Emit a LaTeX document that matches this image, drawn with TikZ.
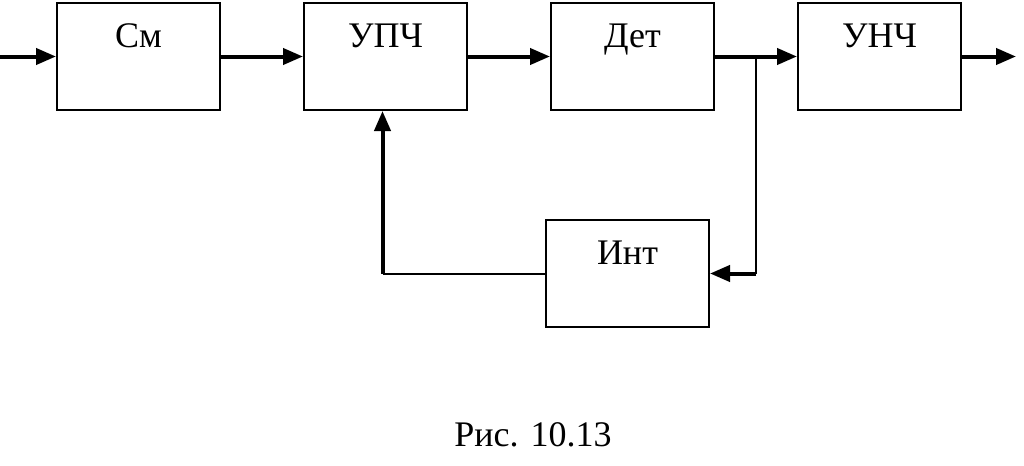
\documentclass[tikz,border=0pt]{standalone}
\usepackage{fontspec}
\setmainfont{Liberation Serif}
\usetikzlibrary{positioning,calc,arrows.meta}

\begin{document}
\begin{tikzpicture}[auto, node distance=41pt, x=1pt, y=1pt,
    >={Triangle[length=10pt,width=8pt]},
    font=\fontsize{18}{20}\selectfont]
    \useasboundingbox (0,0) rectangle (512,-233);
    % Blocks
    \node [draw, line width=1pt,
        minimum width=81.5pt,
        minimum height=53.5pt,
        anchor=north west,
        label={[name=SmText, anchor=base, yshift=-22.5pt]north:См}
    ]  (Sm) at (28,-1) {};
    \node [draw, line width=1pt,
        minimum width=81.5pt,
        minimum height=53.5pt,
        right=of Sm,
        label={[name=UpchText, anchor=base, yshift=-22.5pt]north:УПЧ}
    ]  (Upch) {};
    \node [draw, line width=1pt,
        minimum width=81.5pt,
        minimum height=53.5pt,
        right=of Upch,
        label={[name=DetText, anchor=base, yshift=-22.5pt]north:Дет}
    ]  (Det) {};
    \node [draw, line width=1pt,
        minimum width=81.5pt,
        minimum height=53.5pt,
        right=of Det,
        label={[name=UnchText, anchor=base, yshift=-22.5pt]north:УНЧ}
    ]  (Unch) {};
    \node [draw, line width=1pt,
        minimum width=81.5pt,
        minimum height=53.5pt,
        below=54pt of Det, xshift=-2.5pt,
        label={[name=IntText, anchor=base, yshift=-22.5pt]north:Инт}
    ]  (Int) {};
    % Points on the lines
    \coordinate [left=28pt of Sm.west] (In);
    \coordinate [right=27pt of Unch.east] (Out);
    \coordinate (Branch) at ($(Det.east)!0.5!(Unch.west)$);
    \coordinate (BranchLow) at (Branch |- Int.east);
    \coordinate (Back) at ([xshift=-1.5pt]Upch.south |- Int.west);
    % Signal path
    \draw[->, line width=2pt] (In) -- (Sm.west);
    \draw[->, line width=2pt] (Sm.east) -- (Upch.west);
    \draw[->, line width=2pt] (Upch.east) -- (Det.west);
    \draw[->, line width=2pt] (Det.east) -- (Unch.west);
    \draw[->, line width=2pt] (Unch.east) -- (Out);
    % Feedback loop
    \draw[line width=1pt] (Branch) -- (BranchLow);
    \draw[->, line width=2pt] (BranchLow) -- (Int.east);
    \draw[line width=1pt] (Int.west) -- (Back);
    \draw[->, line width=2pt] (Back) -- (Back |- Upch.south);
    % Caption
    \node [anchor=base] (Caption) at (266.5,-223) {Рис. 10.13};
\end{tikzpicture}
\end{document}
